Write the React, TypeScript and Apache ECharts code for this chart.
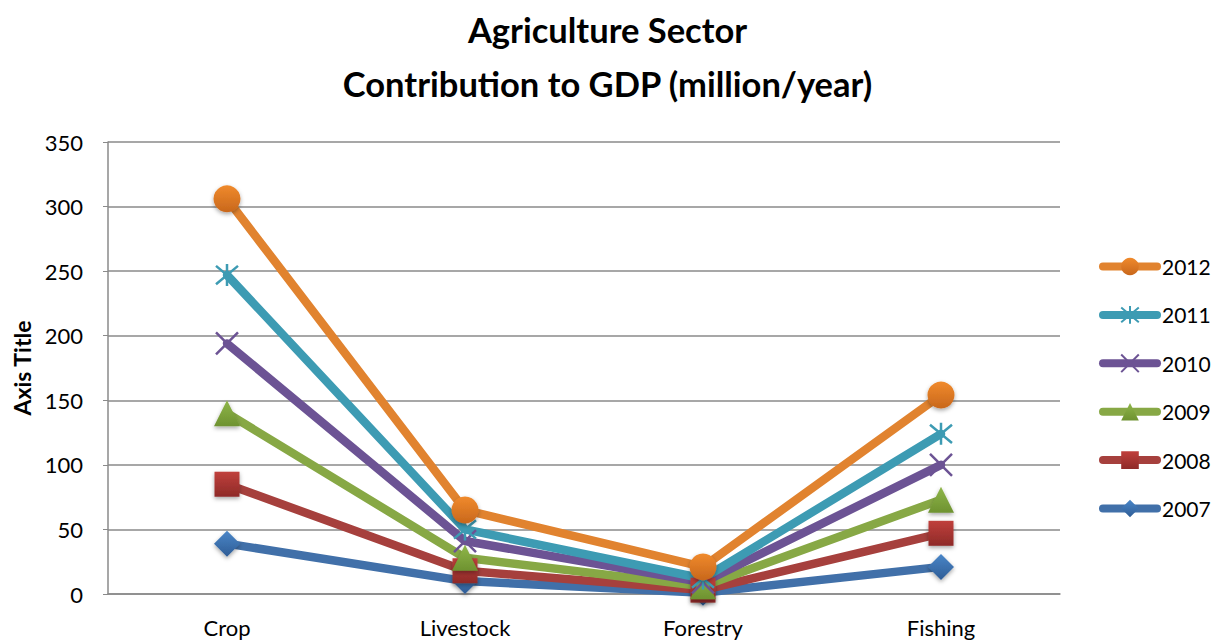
import React, { useEffect, useRef } from "react";
import * as echarts from "echarts";

const categories = ["Crop", "Livestock", "Forestry", "Fishing"];
const years = ["2012", "2011", "2010", "2009", "2008", "2007"];
const v2012 = [306, 65, 21, 154];
const v2011 = [247, 50, 12, 124];
const v2010 = [194, 41, 9, 100];
const v2009 = [140, 28, 6, 73];
const v2008 = [85, 18, 3, 47];
const v2007 = [39, 10, 1, 21];
const yTicks = [0, 50, 100, 150, 200, 250, 300, 350];

const FONT = "Lato, 'Open Sans', sans-serif";

const ASTERISK = "path://M0,0 L10,10 M10,0 L0,10 M5,-1 L5,11";
const CROSS = "path://M0,0 L10,10 M10,0 L0,10";

function grad(light: string, dark: string) {
  return new echarts.graphic.LinearGradient(0, 0, 0, 1, [
    { offset: 0, color: light },
    { offset: 1, color: dark },
  ]);
}

export default function App() {
  const ref = useRef<HTMLDivElement>(null);
  useEffect(() => {
    if (!ref.current) return;
    const chart = echarts.init(ref.current, null, { renderer: "svg" });
    const shadow = {
      shadowBlur: 4,
      shadowColor: "rgba(0,0,0,0.35)",
      shadowOffsetY: 2,
    };
    const mk = (
      name: string,
      data: number[],
      color: string,
      symbol: string,
      size: number,
      itemStyle: any
    ) => ({
      name,
      type: "line",
      data,
      symbol,
      symbolSize: size,
      showAllSymbol: true,
      lineStyle: { color, width: 8.5, cap: "round", join: "round" },
      itemStyle,
      z: 2,
    });
    const series = [
      mk("2007", v2007, "#4170A9", "diamond", 26, {
        color: grad("#4a86c8", "#2f5d96"),
        ...shadow,
      }),
      mk("2008", v2008, "#A6403D", "rect", 25, {
        color: grad("#c0403c", "#8e2a28"),
        ...shadow,
      }),
      mk("2009", v2009, "#87A845", "triangle", 26, {
        color: grad("#8fb64a", "#6e9230"),
        ...shadow,
      }),
      mk("2010", v2010, "#6C5394", CROSS, 22, {
        color: "rgba(0,0,0,0)",
        borderColor: "#6C5394",
        borderWidth: 2.5,
      }),
      mk("2011", v2011, "#3D9BB3", ASTERISK, 22, {
        color: "rgba(0,0,0,0)",
        borderColor: "#3D9BB3",
        borderWidth: 2.5,
      }),
      mk("2012", v2012, "#E1832F", "circle", 27, {
        color: grad("#f08a2c", "#c8671c"),
        ...shadow,
      }),
    ];
    chart.setOption({
      animation: false,
      backgroundColor: "#ffffff",
      title: [
        {
          text: "Agriculture Sector",
          left: "center",
          top: 7,
          textStyle: {
            fontFamily: FONT,
            fontSize: 34.5,
            fontWeight: "bold",
            color: "#000",
          },
        },
        {
          text: "Contribution to GDP (million/year)",
          left: "center",
          top: 61,
          textStyle: {
            fontFamily: FONT,
            fontSize: 34.5,
            fontWeight: "bold",
            color: "#000",
          },
        },
      ],
      legend: {
        data: years,
        orient: "vertical",
        left: 1094,
        top: 251,
        itemWidth: 54,
        itemHeight: 22,
        itemGap: 27.4,
        lineStyle: { width: 8, cap: "round" },
        textStyle: { fontFamily: FONT, fontSize: 21, color: "#000" },
      },
      grid: {
        left: 108,
        right: 155,
        top: 142,
        bottom: 46,
        containLabel: false,
        outerBoundsMode: "none",
      },
      xAxis: {
        type: "category",
        data: categories,
        boundaryGap: true,
        axisLine: { show: true, lineStyle: { color: "#8a8a8a", width: 1.5 } },
        axisTick: { show: false },
        axisLabel: {
          fontFamily: FONT,
          fontSize: 22,
          color: "#000",
          margin: 22,
        },
      },
      yAxis: {
        type: "value",
        min: yTicks[0],
        max: yTicks[yTicks.length - 1],
        interval: 50,
        name: "Axis Title",
        nameLocation: "middle",
        nameRotate: 90,
        nameGap: 74,
        nameTextStyle: {
          fontFamily: FONT,
          fontSize: 23,
          fontWeight: "bold",
          color: "#000",
        },
        axisLine: { show: true, lineStyle: { color: "#8a8a8a", width: 1.5 } },
        axisTick: { show: true, length: 5, lineStyle: { color: "#8a8a8a" } },
        axisLabel: {
          fontFamily: FONT,
          fontSize: 22,
          color: "#000",
          margin: 25,
        },
        splitLine: { lineStyle: { color: "#8a8a8a", width: 1.5 } },
      },
      series,
    });
    return () => chart.dispose();
  }, []);
  return (
    <div
      ref={ref}
      style={{ position: "fixed", left: 0, top: 0, width: 1215, height: 640 }}
    />
  );
}
